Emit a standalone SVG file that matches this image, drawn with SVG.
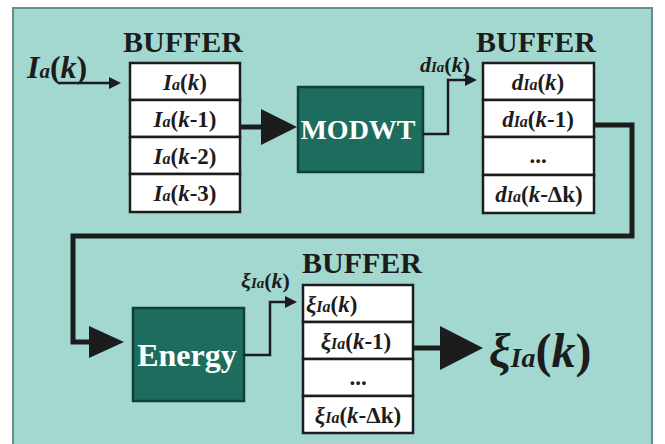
<svg xmlns="http://www.w3.org/2000/svg" width="665" height="444" viewBox="0 0 665 444">
  <style>
    .t { font-family: "Liberation Serif", "Times New Roman", serif; font-weight: bold; fill: #1c1c1c; }
    .i { font-style: italic; }
    .hdr { font-size: 30px; }
    .c { font-size: 23px; }
    .s { font-size: 16px; }
    .cell { fill: #ffffff; stroke: #1c1c1c; stroke-width: 2.5; }
    .blk { fill: #1d6d5e; stroke: #123f36; stroke-width: 2.5; }
    .wt { fill: #ffffff; }
    .thin { fill: none; stroke: #1c1c1c; stroke-width: 2.5; }
    .thick { fill: none; stroke: #1c1c1c; stroke-width: 5; stroke-linejoin: miter; }
    .head { fill: #1c1c1c; }
  </style>

  <!-- panel -->
  <rect x="0" y="0" width="665" height="444" fill="#ffffff"/>
  <rect x="13" y="8" width="639" height="450" fill="#a2d8d0" stroke="#6a8c86" stroke-width="2"/>

  <!-- input label -->
  <g id="input">
    <text class="t" x="27" y="78" font-size="32"><tspan class="i">I</tspan><tspan class="i" font-size="21">a</tspan><tspan>(</tspan><tspan class="i">k</tspan><tspan>)</tspan></text>
  </g>

  <!-- input buffer -->
  <g id="buffer1">
    <text class="t hdr" x="183" y="52" text-anchor="middle">BUFFER</text>
    <rect class="cell" x="130" y="63" width="110" height="37"/>
    <rect class="cell" x="130" y="100" width="110" height="37"/>
    <rect class="cell" x="130" y="137" width="110" height="37"/>
    <rect class="cell" x="130" y="174" width="110" height="38"/>
    <text class="t c" x="185" y="90" text-anchor="middle"><tspan class="i">I</tspan><tspan class="i s">a</tspan>(<tspan class="i">k</tspan>)</text>
    <text class="t c" x="185" y="127" text-anchor="middle"><tspan class="i">I</tspan><tspan class="i s">a</tspan>(<tspan class="i">k</tspan>-1)</text>
    <text class="t c" x="185" y="164" text-anchor="middle"><tspan class="i">I</tspan><tspan class="i s">a</tspan>(<tspan class="i">k</tspan>-2)</text>
    <text class="t c" x="185" y="201" text-anchor="middle"><tspan class="i">I</tspan><tspan class="i s">a</tspan>(<tspan class="i">k</tspan>-3)</text>
  </g>

  <!-- MODWT block -->
  <g id="modwt">
    <rect class="blk" x="298" y="87" width="125" height="85"/>
    <text class="t wt" x="358" y="139" font-size="28" text-anchor="middle">MODWT</text>
  </g>

  <!-- detail coefficient buffer -->
  <g id="buffer2">
    <text class="t hdr" x="536" y="52" text-anchor="middle">BUFFER</text>
    <rect class="cell" x="483" y="63" width="111" height="37"/>
    <rect class="cell" x="483" y="100" width="111" height="37"/>
    <rect class="cell" x="483" y="137" width="111" height="38"/>
    <rect class="cell" x="483" y="175" width="111" height="38"/>
    <text class="t c" x="538" y="90" text-anchor="middle"><tspan class="i">d</tspan><tspan class="i s">Ia</tspan>(<tspan class="i">k</tspan>)</text>
    <text class="t c" x="538" y="127" text-anchor="middle"><tspan class="i">d</tspan><tspan class="i s">Ia</tspan>(<tspan class="i">k</tspan>-1)</text>
    <text class="t c" x="538" y="163" text-anchor="middle">...</text>
    <text class="t c" x="539" y="202" text-anchor="middle"><tspan class="i">d</tspan><tspan class="i s">Ia</tspan>(<tspan class="i">k</tspan>-Δk)</text>
  </g>

  <!-- Energy block -->
  <g id="energy">
    <rect class="blk" x="133" y="308" width="111" height="93"/>
    <text class="t wt" x="187" y="366" font-size="32" text-anchor="middle">Energy</text>
  </g>

  <!-- energy buffer -->
  <g id="buffer3">
    <text class="t hdr" x="362" y="273" text-anchor="middle">BUFFER</text>
    <rect class="cell" x="303" y="285" width="110" height="37"/>
    <rect class="cell" x="303" y="322" width="110" height="37"/>
    <rect class="cell" x="303" y="359" width="110" height="37"/>
    <rect class="cell" x="303" y="396" width="110" height="37"/>
    <text class="t c" x="306" y="312"><tspan class="i">ξ</tspan><tspan class="i s">Ia</tspan>(<tspan class="i">k</tspan>)</text>
    <text class="t c" x="356" y="349" text-anchor="middle"><tspan class="i">ξ</tspan><tspan class="i s">Ia</tspan>(<tspan class="i">k</tspan>-1)</text>
    <text class="t c" x="358" y="385" text-anchor="middle">...</text>
    <text class="t c" x="358" y="423" text-anchor="middle"><tspan class="i">ξ</tspan><tspan class="i s">Ia</tspan>(<tspan class="i">k</tspan>-Δk)</text>
  </g>

  <!-- output label -->
  <g id="output">
    <text class="t" x="489" y="367" font-size="48"><tspan class="i">ξ</tspan><tspan class="i" font-size="28">Ia</tspan>(<tspan class="i">k</tspan>)</text>
  </g>

  <!-- connectors -->
  <g id="connectors">
    <!-- input into buffer -->
    <line class="thin" x1="59" y1="83" x2="111" y2="83"/>
    <polygon class="head" points="109,77 121,83 109,89"/>
    <!-- buffer to MODWT -->
    <line class="thick" x1="241" y1="127" x2="264" y2="127"/>
    <polygon class="head" points="261,109 297,127 261,145"/>
    <!-- MODWT to detail buffer -->
    <polyline class="thin" points="423,134 448,134 448,80 467,80"/>
    <text class="t" x="420" y="72" font-size="22"><tspan class="i">d</tspan><tspan class="i" font-size="15">Ia</tspan>(<tspan class="i">k</tspan>)</text>
    <polygon class="head" points="465,74 477,80 465,86"/>
    <!-- detail buffer back to Energy -->
    <polyline class="thick" points="594,125 632,125 632,236 73,236 73,342 92,342"/>
    <polygon class="head" points="89,326 124,342 89,358"/>
    <!-- Energy to energy buffer -->
    <polyline class="thin" points="244,355 270,355 270,302 287,302"/>
    <text class="t" x="241" y="288" font-size="22"><tspan class="i">ξ</tspan><tspan class="i" font-size="15">Ia</tspan>(<tspan class="i">k</tspan>)</text>
    <polygon class="head" points="285,296 297,302 285,308"/>
    <!-- energy buffer to output -->
    <line class="thick" x1="413" y1="348" x2="443" y2="348"/>
    <polygon class="head" points="440,326 483,348 440,370"/>
  </g>
</svg>
